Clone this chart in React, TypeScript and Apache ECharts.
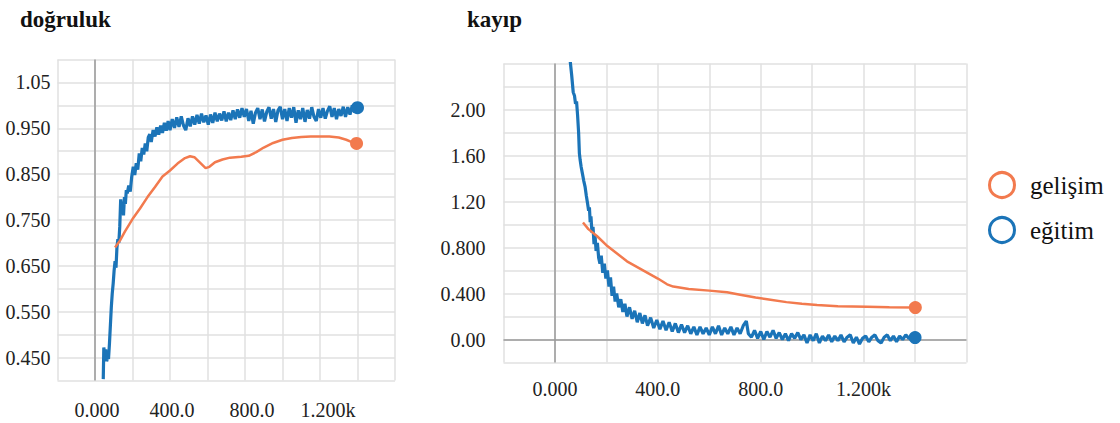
import React, { useEffect, useRef } from "react";
import * as echarts from "echarts";

// ---- Data ----
const accTrainSteps = [
  44, 47, 52, 57, 62, 67, 72, 77, 82, 87, 92, 97, 102, 107, 112, 117, 122, 127, 132, 137,
  142, 147, 152, 157, 162, 167, 172, 180, 188, 196, 204, 212, 220, 228, 236, 244, 252, 260,
  268, 276, 284, 292, 300, 310, 320, 330, 340, 350, 360, 370, 380, 390, 400, 412, 424, 436,
  448, 460, 472, 484, 496, 508, 520, 532, 544, 556, 568, 580, 592, 604, 616, 628, 640, 652,
  664, 676, 688, 700, 712, 724, 736, 748, 760, 772, 784, 796, 808, 820, 832, 844, 856, 868,
  880, 892, 904, 916, 928, 940, 952, 964, 976, 988, 1000, 1012, 1024, 1036, 1048, 1060, 1072,
  1084, 1096, 1108, 1120, 1132, 1144, 1156, 1168, 1180, 1192, 1204, 1216, 1228, 1240, 1252,
  1264, 1276, 1288, 1300, 1312, 1324, 1336, 1348, 1360, 1372, 1384, 1400,
];
const accTrainValues = [
  0.403, 0.472, 0.455, 0.468, 0.442, 0.45, 0.447, 0.48, 0.52, 0.56, 0.59, 0.612, 0.64, 0.66,
  0.646, 0.69, 0.708, 0.7, 0.735, 0.795, 0.77, 0.79, 0.76, 0.8, 0.785, 0.815, 0.808, 0.825,
  0.812, 0.845, 0.866, 0.848, 0.874, 0.86, 0.895, 0.878, 0.907, 0.893, 0.917, 0.9, 0.93,
  0.937, 0.92, 0.946, 0.932, 0.952, 0.936, 0.956, 0.94, 0.962, 0.945, 0.966, 0.946, 0.97,
  0.951, 0.974, 0.953, 0.976, 0.956, 0.946, 0.972, 0.954, 0.976, 0.958, 0.979, 0.96, 0.982,
  0.963, 0.978, 0.958, 0.98, 0.962, 0.984, 0.965, 0.982, 0.967, 0.987, 0.965, 0.984, 0.968,
  0.989, 0.97, 0.991, 0.973, 0.994, 0.975, 0.992, 0.966, 0.988, 0.96, 0.984, 0.994, 0.97,
  0.991, 0.965, 0.986, 0.996, 0.971, 0.992, 0.964, 0.989, 0.997, 0.97, 0.992, 0.966, 0.994,
  0.973, 0.996, 0.962, 0.989, 0.97, 0.994, 0.964, 0.99, 0.971, 0.996, 0.975, 0.966, 0.992,
  0.973, 0.994, 0.971, 0.988, 0.998, 0.975, 0.994, 0.97, 0.992, 0.977, 0.997, 0.975, 0.996,
  0.98, 1.0, 0.985, 0.995,
];

const accValSteps = [
  107, 133, 160, 200, 240, 280, 320, 360, 400, 440, 480, 507, 530, 560, 590, 610, 640, 680,
  720, 780, 820, 860, 900, 950, 1000, 1050, 1100, 1150, 1200, 1250, 1300, 1340, 1370, 1395,
];
const accValValues = [
  0.69, 0.705, 0.725, 0.752, 0.775, 0.8, 0.822, 0.845, 0.858, 0.873, 0.885, 0.889, 0.887,
  0.875, 0.863, 0.866, 0.876, 0.882, 0.886, 0.888, 0.89, 0.898, 0.908, 0.918, 0.925, 0.929,
  0.931, 0.932, 0.932, 0.932, 0.93, 0.925, 0.92, 0.917,
];

const lossTrainSteps = [
  58, 65, 71, 76, 80, 84, 88, 92, 95, 98, 102, 107, 112, 117, 122, 127, 131, 134, 137, 140,
  144, 148, 152, 156, 160, 165, 170, 175, 180, 186, 192, 198, 204, 210, 216, 222, 228, 234,
  240, 248, 256, 264, 272, 280, 290, 300, 310, 320, 330, 340, 350, 360, 372, 384, 396, 408,
  420, 432, 444, 456, 468, 480, 492, 504, 516, 528, 540, 552, 564, 576, 588, 600, 612, 624,
  636, 648, 660, 672, 684, 696, 708, 720, 732, 744, 752, 764, 776, 788, 800, 812, 824, 836,
  848, 860, 872, 884, 896, 908, 920, 932, 944, 956, 968, 980, 992, 1004, 1016, 1028, 1040,
  1052, 1064, 1076, 1088, 1100, 1112, 1124, 1136, 1148, 1160, 1172, 1184, 1196, 1208, 1220,
  1232, 1244, 1256, 1268, 1280, 1292, 1304, 1316, 1328, 1340, 1352, 1364, 1376, 1388, 1400,
];
const lossTrainValues = [
  2.45, 2.3, 2.15, 2.12, 2.05, 2.07, 1.95, 1.8, 1.62, 1.56, 1.5, 1.44, 1.38, 1.33, 1.25, 1.18,
  1.12, 1.15, 1.02, 1.07, 0.93, 0.98, 0.83, 0.9, 0.77, 0.84, 0.71, 0.66, 0.73, 0.58, 0.66,
  0.53, 0.6, 0.46, 0.54, 0.38, 0.46, 0.33, 0.4, 0.28, 0.35, 0.24, 0.31, 0.2, 0.28, 0.18, 0.25,
  0.15, 0.23, 0.14, 0.21, 0.12, 0.19, 0.1, 0.17, 0.09, 0.16, 0.08, 0.15, 0.07, 0.14, 0.06,
  0.13, 0.06, 0.12, 0.05, 0.11, 0.04, 0.11, 0.05, 0.1, 0.04, 0.11, 0.05, 0.12, 0.04, 0.1,
  0.05, 0.11, 0.04, 0.1, 0.05, 0.12, 0.16, 0.05, 0.02, 0.08, 0.01, 0.07, 0.0, 0.07, 0.02,
  0.08, 0.01, 0.06, 0.0, 0.05, -0.01, 0.05, 0.01, 0.06, 0.0, 0.04, -0.03, 0.04, -0.01, 0.05,
  -0.03, 0.03, -0.01, 0.04, -0.02, 0.03, -0.01, 0.04, -0.02, 0.02, 0.04, -0.03, 0.02, -0.04,
  0.01, 0.03, -0.02, 0.02, 0.04, -0.01, -0.03, 0.02, 0.04, -0.01, 0.03, -0.02, 0.03, 0.0, 0.04,
  0.01, 0.03, 0.017,
];

const lossValSteps = [
  109, 130, 163, 200, 240, 280, 320, 360, 400, 436, 460, 520, 600, 669, 720, 780, 825, 900,
  960, 1019, 1100, 1214, 1300, 1401,
];
const lossValValues = [
  1.017, 0.96, 0.9, 0.82, 0.75, 0.68, 0.63, 0.58, 0.53, 0.48, 0.46, 0.44, 0.425, 0.41, 0.39,
  0.365, 0.35, 0.325, 0.31, 0.3, 0.29, 0.285, 0.28, 0.278,
];

const xTickLabels: Record<number, string> = { 0: "0.000", 400: "400.0", 800: "800.0", 1200: "1.200k" };
const accTickLabels: Record<number, string> = {
  45: "0.450", 55: "0.550", 65: "0.650", 75: "0.750", 85: "0.850", 95: "0.950", 105: "1.05",
};
const lossTickLabels: Record<number, string> = {
  0: "0.00", 4: "0.400", 8: "0.800", 12: "1.20", 16: "1.60", 20: "2.00",
};
const titles = ["doğruluk", "kayıp"];
const legendNames = ["gelişim", "eğitim"];

// ---- Style ----
const BLUE = "#1b74b8";
const ORANGE = "#f27a4e";
const GRID = "#e1e1e1";
const FONT = "Liberation Serif";
// left chart's x labels sit slightly right of their ticks in the reference
const leftXShift: Record<number, string> = { 0: "s0", 400: "s0", 800: "s1", 1200: "s2" };

const zip = (xs: number[], ys: number[]) => xs.map((x, i) => [x, ys[i]]);
const last = (xs: number[], ys: number[]) => [[xs[xs.length - 1], ys[ys.length - 1]]];

export default function App() {
  const ref = useRef<HTMLDivElement>(null);
  useEffect(() => {
    document.body.style.margin = "0";
    if (!ref.current) return;
    const chart = echarts.init(ref.current, undefined, { renderer: "svg" });

    const labelText = { fontSize: 20, fontFamily: FONT, color: "#222" };

    const xAxisBase = (gridIndex: number, margin: number, shifted: boolean) => ({
      gridIndex,
      type: "value",
      min: -200,
      max: 1600,
      interval: 200,
      axisLine: { show: false },
      axisTick: { show: false },
      splitLine: { show: true, lineStyle: { color: GRID, width: 1.5 } },
      axisLabel: {
        margin,
        ...labelText,
        formatter: (v: number) => {
          const k = Math.round(v);
          const t = xTickLabels[k];
          if (!t) return "";
          return shifted ? `{${leftXShift[k]}|${t}}` : t;
        },
        rich: {
          s0: { ...labelText, padding: [0, 0, 0, 4] },
          s1: { ...labelText, padding: [0, 0, 0, 14] },
          s2: { ...labelText, padding: [0, 0, 0, 16] },
        },
      },
    });

    const lineSeries = (name: string, xi: number, data: number[][], color: string, width: number) => ({
      name,
      type: "line",
      xAxisIndex: xi,
      yAxisIndex: xi,
      data,
      showSymbol: false,
      smooth: false,
      lineStyle: { color, width },
      itemStyle: { color },
      z: name === legendNames[1] ? 3 : 4,
    });
    const endSeries = (xi: number, data: number[][], color: string) => ({
      type: "scatter",
      xAxisIndex: xi,
      yAxisIndex: xi,
      data,
      symbol: "circle",
      symbolSize: 13,
      itemStyle: { color, opacity: 1 },
      z: 5,
    });

    const zeroLine = (data: any[]) => ({
      silent: true,
      symbol: "none",
      label: { show: false },
      lineStyle: { color: "#9a9a9a", width: 1.5, type: "solid" },
      data,
      z: 1,
    });

    const option: any = {
      animation: false,
      grid: [
        { left: 57.5, top: 59.5, width: 337.5, height: 321 },
        { left: 503.5, top: 63.5, width: 463, height: 299 },
      ],
      xAxis: [xAxisBase(0, 19, true), xAxisBase(1, 16, false)],
      yAxis: [
        {
          gridIndex: 0,
          type: "value",
          min: 0.4,
          max: 1.1,
          interval: 0.05,
          axisLine: { show: false },
          axisTick: { show: false },
          splitLine: { show: true, lineStyle: { color: GRID, width: 1.5 } },
          axisLabel: {
            margin: 7,
            ...labelText,
            formatter: (v: number) => accTickLabels[Math.round(v * 100)] ?? "",
          },
        },
        {
          gridIndex: 1,
          type: "value",
          min: -0.2,
          max: 2.4,
          interval: 0.2,
          axisLine: { show: false },
          axisTick: { show: false },
          splitLine: { show: true, lineStyle: { color: GRID, width: 1.5 } },
          axisLabel: {
            margin: 18,
            ...labelText,
            formatter: (v: number) => lossTickLabels[Math.round(v * 10)] ?? "",
          },
        },
      ],
      series: [
        {
          ...lineSeries(legendNames[1], 0, zip(accTrainSteps, accTrainValues), BLUE, 3.2),
          markLine: zeroLine([{ xAxis: 0 }]),
        },
        lineSeries(legendNames[0], 0, zip(accValSteps, accValValues), ORANGE, 2.5),
        endSeries(0, last(accTrainSteps, accTrainValues), BLUE),
        endSeries(0, last(accValSteps, accValValues), ORANGE),
        {
          ...lineSeries(legendNames[1], 1, zip(lossTrainSteps, lossTrainValues), BLUE, 3.2),
          markLine: zeroLine([{ xAxis: 0 }, { yAxis: 0 }]),
        },
        lineSeries(legendNames[0], 1, zip(lossValSteps, lossValValues), ORANGE, 2.5),
        endSeries(1, last(lossTrainSteps, lossTrainValues), BLUE),
        endSeries(1, last(lossValSteps, lossValValues), ORANGE),
      ],
      graphic: [
        {
          type: "text",
          left: 20,
          top: 8,
          style: { text: titles[0], fontSize: 23, fontWeight: "bold", fontFamily: FONT, fill: "#111" },
        },
        {
          type: "text",
          left: 467,
          top: 8,
          style: { text: titles[1], fontSize: 23, fontWeight: "bold", fontFamily: FONT, fill: "#111" },
        },
        {
          type: "circle",
          shape: { cx: 1002, cy: 185, r: 12.5 },
          style: { fill: "#fff", stroke: ORANGE, lineWidth: 3 },
        },
        {
          type: "circle",
          shape: { cx: 1002, cy: 230, r: 12.5 },
          style: { fill: "#fff", stroke: BLUE, lineWidth: 3 },
        },
        {
          type: "text",
          x: 1030,
          y: 185,
          style: { text: legendNames[0], fontSize: 25, fontFamily: FONT, fill: "#111", verticalAlign: "middle" },
        },
        {
          type: "text",
          x: 1030,
          y: 230,
          style: { text: legendNames[1], fontSize: 25, fontFamily: FONT, fill: "#111", verticalAlign: "middle" },
        },
      ],
    };
    chart.setOption(option);
    return () => chart.dispose();
  }, []);
  return <div ref={ref} style={{ width: 1120, height: 423 }} />;
}
